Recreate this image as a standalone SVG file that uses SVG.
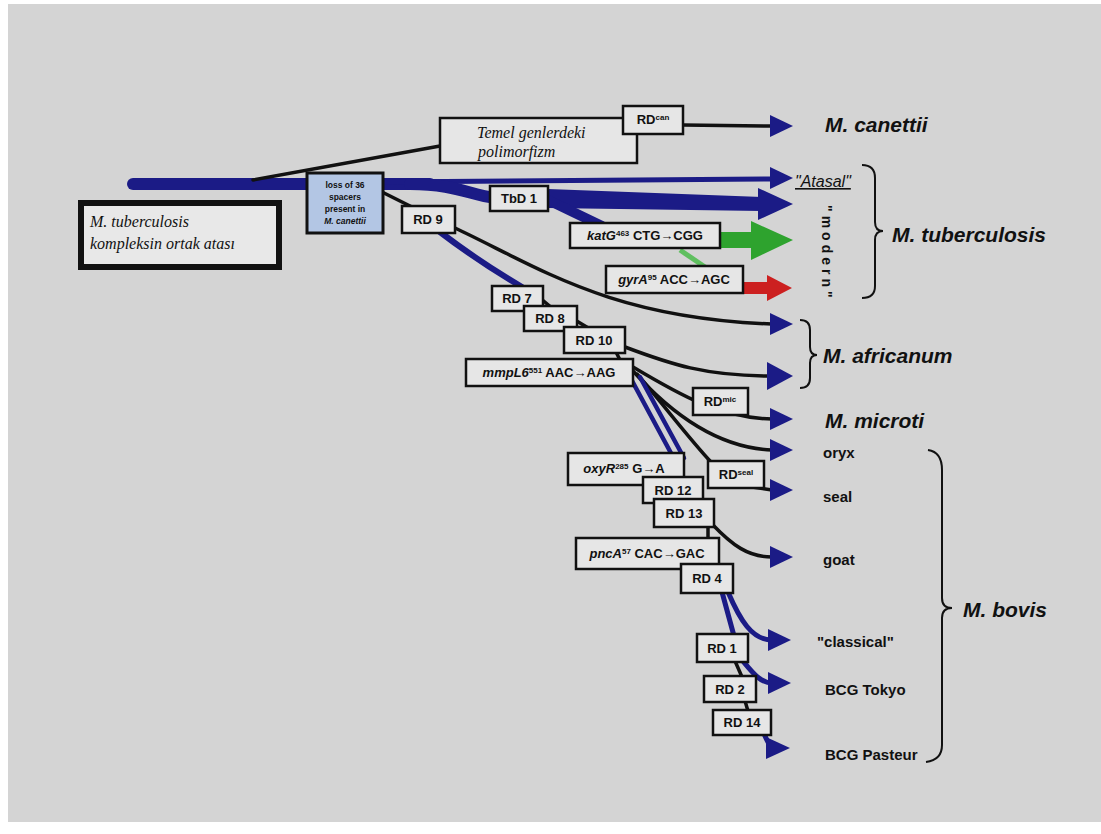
<svg xmlns="http://www.w3.org/2000/svg" width="1101" height="834" viewBox="0 0 1101 834">
<style>
.bx{fill:#e6e6e6;stroke:#111;stroke-width:2.5}
.t{font-family:"Liberation Sans",Arial,sans-serif;font-weight:bold;font-size:13px;fill:#111;text-anchor:middle}
.ts{font-family:"Liberation Sans",Arial,sans-serif;font-weight:bold;font-size:8.5px;fill:#111;text-anchor:middle}
.sup{font-size:8px}
.it{font-style:italic}
.bl{fill:none;stroke:#1b1b86;stroke-linecap:round}
.k{fill:none;stroke:#111;stroke-width:3.5;stroke-linecap:round}
.ah{fill:#1b1b86}
.br{fill:none;stroke:#111;stroke-width:2}
.sp{font-family:"Liberation Sans",Arial,sans-serif;font-weight:bold;font-style:italic;font-size:21px;fill:#111}
.lb{font-family:"Liberation Sans",Arial,sans-serif;font-weight:bold;font-size:15px;fill:#111}
</style>
<rect x="0" y="0" width="1101" height="834" fill="#ffffff"/>
<rect x="8" y="4" width="1093" height="818" fill="#d4d4d4"/>

<g id="connectors">
  <!-- trunk -->
  <path class="bl" d="M133,184 L430,184" stroke-width="12" stroke-linecap="butt"/>
  <path class="bl" d="M380,182 L772,179" stroke-width="5"/>
  <path class="bl" d="M410,184 C455,184 470,195 495,198" stroke-width="12"/>
  <path d="M548,189 L762,197 L762,211 L548,208 Z" fill="#1b1b86"/>
  <path class="bl" d="M548,200 L602,226" stroke-width="10"/>
  <path class="k" d="M253,180 L440,146"/>
  <path class="k" d="M683,125 L772,126" stroke-width="3"/>
  <!-- loss box to RD9 -->
  <path class="k" d="M380,191 L412,207"/>
  <!-- RD9 -->
  <path class="bl" d="M440,232 C470,255 500,274 522,287" stroke-width="6"/>
  <path class="k" d="M455,228 C540,268 610,318 772,324"/>
  <path class="k" d="M540,298 L552,308" stroke-width="3"/>
  <path class="k" d="M575,320 L590,329" stroke-width="3"/>
  <!-- RD10 -->
  <path class="k" d="M625,347 C670,364 705,376 772,376" stroke-width="4"/>
  <path class="k" d="M616,352 L620,360" stroke-width="3"/>
  <!-- mmpL6 -->
  <path class="k" d="M633,367 C680,395 720,418 772,419"/>
  <path class="k" d="M633,371 C675,418 720,448 772,450"/>
  <path class="k" d="M637,374 C660,400 690,440 712,463"/>
  <path class="bl" d="M630,377 L672,455" stroke-width="4.5"/>
  <path class="bl" d="M640,377 L684,458" stroke-width="4.5"/>
  <!-- seal -->
  <path class="k" d="M752,487 L772,490"/>
  <!-- RD13 -->
  <path class="k" d="M712,524 C732,545 748,557 772,557"/>
  <path class="k" d="M708,526 L708,539" stroke-width="3"/>
  <!-- RD4 -->
  <path class="bl" d="M722,592 L734,636" stroke-width="5"/>
  <path class="bl" d="M728,592 C740,620 752,640 772,640" stroke-width="5"/>
  <!-- RD1 -->
  <path class="bl" d="M742,660 C752,672 760,683 772,683" stroke-width="5"/>
  <path class="k" d="M735,661 L742,677" stroke-width="3"/>
  <path class="k" d="M745,701 L748,711" stroke-width="3"/>
  <path class="bl" d="M764,734 C768,742 770,747 772,748" stroke-width="5"/>
  <!-- green / red -->
  <path d="M720,232 L751,232 L751,221 L793,240 L751,260 L751,248 L720,248 Z" fill="#2ea32e"/>
  <path d="M680,250 L705,267" stroke="#5fbf5f" stroke-width="5" fill="none"/>
  <path d="M743,282 L767,282 L767,275 L792,288 L767,301 L767,294 L743,294 Z" fill="#cc2020"/>
  <!-- arrowheads -->
  <polygon class="ah" points="770,115 793,126 770,137"/>
  <polygon class="ah" points="770,167 793,178 770,189"/>
  <polygon class="ah" points="758,188 793,204 758,220"/>
  <polygon class="ah" points="770,313 793,324 770,335"/>
  <polygon class="ah" points="767,362 793,376 767,390"/>
  <polygon class="ah" points="770,408 793,419 770,430"/>
  <polygon class="ah" points="770,439 793,450 770,461"/>
  <polygon class="ah" points="770,479 793,490 770,501"/>
  <polygon class="ah" points="770,546 793,557 770,568"/>
  <polygon class="ah" points="768,629 791,640 768,651"/>
  <polygon class="ah" points="768,672 791,683 768,694"/>
  <polygon class="ah" points="766,737 790,748 766,759"/>
  <!-- braces -->
  <path class="br" d="M862,165 Q875,165 875,178 L875,222 Q875,231 883,231 Q875,231 875,240 L875,286 Q875,298 862,298"/>
  <path class="br" d="M800,320 Q810,320 810,330 L810,347 Q810,355 817,355 Q810,355 810,363 L810,378 Q810,388 800,388"/>
  <path class="br" d="M928,450 Q942,452 942,470 L942,598 Q942,608 952,608 Q942,608 942,618 L942,745 Q942,760 926,762"/>
</g>

<g id="ancestor">
  <rect x="81" y="203" width="198" height="64" fill="#e8e8e8" stroke="#111" stroke-width="6"/>
  <text x="90" y="227" font-family="Liberation Serif,serif" font-style="italic" font-size="16" fill="#111">M. tuberculosis</text>
  <text x="90" y="249" font-family="Liberation Serif,serif" font-style="italic" font-size="16" fill="#111">kompleksin ortak atası</text>
</g>
<g id="temel">
  <rect class="bx" x="440" y="118" width="197" height="45"/>
  <text x="477" y="138" font-family="Liberation Serif,serif" font-style="italic" font-size="16" fill="#111">Temel genlerdeki</text>
  <text x="478" y="157" font-family="Liberation Serif,serif" font-style="italic" font-size="16" fill="#111">polimorfizm</text>
</g>
<g id="rdcan">
  <rect class="bx" x="623" y="106" width="60" height="28"/>
  <text class="t" x="653" y="124">RD<tspan class="sup" dy="-4">can</tspan></text>
</g>
<g id="loss">
  <rect x="307" y="173" width="76" height="60" fill="#b3c6e4" stroke="#111" stroke-width="3"/>
  <text class="ts" x="345" y="188">loss of 36</text>
  <text class="ts" x="345" y="200">spacers</text>
  <text class="ts" x="345" y="212">present in</text>
  <text class="ts" x="345" y="224"><tspan class="it">M. canettii</tspan></text>
</g>
<g id="tbd1">
  <rect class="bx" x="490" y="186" width="58" height="25"/>
  <text class="t" x="519" y="203">TbD 1</text>
</g>
<g id="rd9">
  <rect class="bx" x="402" y="206" width="53" height="27"/>
  <text class="t" x="428" y="224">RD 9</text>
</g>
<g id="katg">
  <rect class="bx" x="570" y="223" width="150" height="25"/>
  <text class="t" x="645" y="240"><tspan class="it">katG</tspan><tspan class="sup" dy="-4">463</tspan><tspan dy="4"> CTG→CGG</tspan></text>
</g>
<g id="gyra">
  <rect class="bx" x="606" y="266" width="137" height="27"/>
  <text class="t" x="674" y="284"><tspan class="it">gyrA</tspan><tspan class="sup" dy="-4">95</tspan><tspan dy="4"> ACC→AGC</tspan></text>
</g>
<g id="rd7">
  <rect class="bx" x="492" y="286" width="51" height="25"/>
  <text class="t" x="517" y="303">RD 7</text>
</g>
<g id="rd8">
  <rect class="bx" x="524" y="306" width="53" height="25"/>
  <text class="t" x="550" y="323">RD 8</text>
</g>
<g id="rd10">
  <rect class="bx" x="564" y="327" width="61" height="26"/>
  <text class="t" x="594" y="345">RD 10</text>
</g>
<g id="mmpl6">
  <rect class="bx" x="466" y="359" width="167" height="27"/>
  <text class="t" x="549" y="377"><tspan class="it">mmpL6</tspan><tspan class="sup" dy="-4">551</tspan><tspan dy="4"> AAC→AAG</tspan></text>
</g>
<g id="rdmic">
  <rect class="bx" x="693" y="388" width="55" height="27"/>
  <text class="t" x="720" y="406">RD<tspan class="sup" dy="-4">mic</tspan></text>
</g>
<g id="oxyr">
  <rect class="bx" x="568" y="453" width="116" height="32"/>
  <text class="t" x="624" y="473"><tspan class="it">oxyR</tspan><tspan class="sup" dy="-4">285</tspan><tspan dy="4"> G→A</tspan></text>
</g>
<g id="rdseal">
  <rect class="bx" x="708" y="461" width="56" height="27"/>
  <text class="t" x="736" y="479">RD<tspan class="sup" dy="-4">seal</tspan></text>
</g>
<g id="rd12">
  <rect class="bx" x="643" y="477" width="60" height="26"/>
  <text class="t" x="673" y="495">RD 12</text>
</g>
<g id="rd13">
  <rect class="bx" x="654" y="499" width="60" height="28"/>
  <text class="t" x="684" y="518">RD 13</text>
</g>
<g id="pnca">
  <rect class="bx" x="576" y="538" width="143" height="31"/>
  <text class="t" x="647" y="558"><tspan class="it">pncA</tspan><tspan class="sup" dy="-4">57</tspan><tspan dy="4"> CAC→GAC</tspan></text>
</g>
<g id="rd4">
  <rect class="bx" x="681" y="564" width="52" height="29"/>
  <text class="t" x="707" y="583">RD 4</text>
</g>
<g id="rd1">
  <rect class="bx" x="697" y="634" width="51" height="28"/>
  <text class="t" x="722" y="653">RD 1</text>
</g>
<g id="rd2">
  <rect class="bx" x="704" y="676" width="52" height="26"/>
  <text class="t" x="730" y="694">RD 2</text>
</g>
<g id="rd14">
  <rect class="bx" x="713" y="710" width="58" height="25"/>
  <text class="t" x="742" y="727">RD 14</text>
</g>

<g id="labels">
  <text class="sp" x="825" y="132">M. canettii</text>
  <text x="795" y="187" font-family="Liberation Sans,Arial,sans-serif" font-style="italic" font-size="16" fill="#111" text-decoration="underline">"Atasal"</text>
  <text transform="translate(822,205) rotate(90)" font-family="Liberation Sans,Arial,sans-serif" font-weight="bold" font-size="14" letter-spacing="4" fill="#111">"modern"</text>
  <text class="sp" x="892" y="242">M. tuberculosis</text>
  <text class="sp" x="823" y="363">M. africanum</text>
  <text class="sp" x="825" y="428">M. microti</text>
  <text class="lb" x="823" y="458">oryx</text>
  <text class="lb" x="823" y="502">seal</text>
  <text class="lb" x="823" y="565">goat</text>
  <text class="lb" x="817" y="647">"classical"</text>
  <text class="lb" x="825" y="695">BCG Tokyo</text>
  <text class="lb" x="825" y="760">BCG Pasteur</text>
  <text class="sp" x="963" y="617">M. bovis</text>
</g>
</svg>
